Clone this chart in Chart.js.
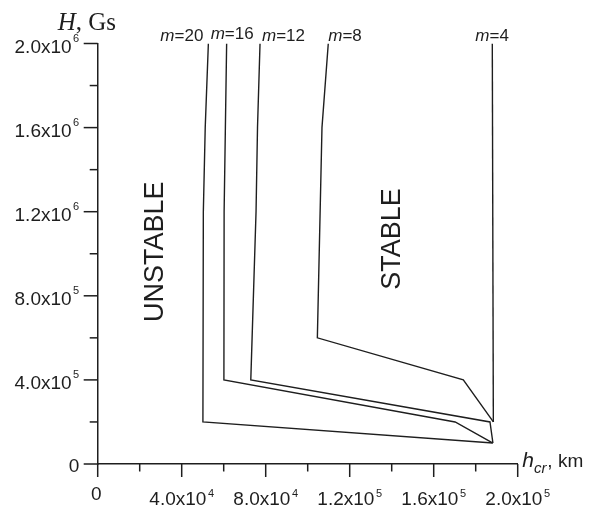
<!DOCTYPE html>
<html>
<head>
<meta charset="utf-8">
<script src="https://cdn.jsdelivr.net/npm/chart.js@4/dist/chart.umd.min.js"></script>
<style>
  html, body { margin: 0; padding: 0; background: #fff; }
  #wrap { width: 590px; height: 507px; }
</style>
</head>
<body>
<div id="wrap"><canvas id="grafica" width="590" height="507"></canvas></div>
<script>
// curvas h_cr(H) para cada m
const mLabels = ['20', '16', '12', '8', '4'];

const hcr20 = [52700, 51200, 50300, 50100, 188200];
const H20   = [2.0e6, 1.6e6, 1.2e6, 2.0e5, 1.0e5];

const hcr16 = [61400, 60800, 60200, 60100, 170200, 188000];
const H16   = [2.0e6, 1.6e6, 1.2e6, 4.0e5, 2.0e5, 1.0e5];

const hcr12 = [77300, 76100, 75400, 72900, 186800, 188200];
const H12   = [2.0e6, 1.6e6, 1.2e6, 4.0e5, 2.0e5, 1.0e5];

const hcr8  = [109800, 106800, 104600, 174100, 188400];
const H8    = [2.0e6, 1.6e6, 6.0e5, 4.0e5, 2.0e5];

const hcr4  = [187900, 188400];
const H4    = [2.0e6, 2.0e5];

// etiquetas de ticks
const xTicks = [0, 40000, 80000, 120000, 160000, 200000];
const xTickText = [['0', ''], ['4.0x10', '4'], ['8.0x10', '4'], ['1.2x10', '5'], ['1.6x10', '5'], ['2.0x10', '5']];
const yTicks = [0, 400000, 800000, 1200000, 1600000, 2000000];
const yTickText = [['0', ''], ['4.0x10', '5'], ['8.0x10', '5'], ['1.2x10', '6'], ['1.6x10', '6'], ['2.0x10', '6']];

const curvas = [[hcr20, H20], [hcr16, H16], [hcr12, H12], [hcr8, H8], [hcr4, H4]];

// desplazamiento (px) de cada etiqueta m=.. respecto al extremo superior de la curva
const etiquetaOffset = [[-48, -3], [-16, -5], [2, -3], [0, -3], [-17, -3]];

const SANS = '"Liberation Sans", Arial, sans-serif';
const SERIF = '"Liberation Serif", "Times New Roman", serif';
const INK = '#1e1e1e';

const ejesPlugin = {
  id: 'ejes',
  afterDraw(chart) {
    const ctx = chart.ctx;
    const xs = chart.scales.x, ys = chart.scales.y;
    const area = chart.chartArea;
    ctx.save();
    ctx.strokeStyle = INK;
    ctx.fillStyle = INK;
    ctx.lineWidth = 1.5;

    // ticks eje x (mayores cada 4e4, menores cada 2e4)
    for (let v = 0; v <= 200000; v += 20000) {
      const px = xs.getPixelForValue(v);
      const len = (v % 40000 === 0) ? 13 : 7.5;
      ctx.beginPath();
      ctx.moveTo(px, area.bottom);
      ctx.lineTo(px, area.bottom + len);
      ctx.stroke();
    }
    // ticks eje y
    for (let v = 0; v <= 2000000; v += 200000) {
      const py = ys.getPixelForValue(v);
      const len = (v % 400000 === 0) ? 14 : 8;
      ctx.beginPath();
      ctx.moveTo(area.left, py);
      ctx.lineTo(area.left - len, py);
      ctx.stroke();
    }

    const mainFont = '19px ' + SANS;
    const supFont = '11px ' + SANS;

    // etiquetas eje y
    yTicks.forEach((v, i) => {
      const py = ys.getPixelForValue(v);
      const [base, sup] = yTickText[i];
      const right = area.left - 18.5;
      ctx.font = supFont;
      const wSup = sup ? ctx.measureText(sup).width + 1.5 : 0;
      ctx.font = mainFont;
      ctx.textAlign = 'right';
      ctx.textBaseline = 'alphabetic';
      const bl = v === 0 ? py + 8 : py + 9.5;
      ctx.fillText(base, right - wSup, bl);
      if (sup) {
        ctx.font = supFont;
        ctx.textAlign = 'right';
        ctx.fillText(sup, right, bl - 11);
      }
    });

    // etiquetas eje x
    xTicks.forEach((v, i) => {
      const px = xs.getPixelForValue(v);
      const [base, sup] = xTickText[i];
      ctx.font = mainFont;
      const wBase = ctx.measureText(base).width;
      ctx.font = supFont;
      const wSup = sup ? ctx.measureText(sup).width + 1.5 : 0;
      const left = (v === 0 ? px - 1.5 : px) - (wBase + wSup) / 2;
      const bl = v === 0 ? area.bottom + 36 : area.bottom + 40.5;
      ctx.textAlign = 'left';
      ctx.textBaseline = 'alphabetic';
      ctx.font = mainFont;
      ctx.fillText(base, left, bl);
      if (sup) {
        ctx.font = supFont;
        ctx.fillText(sup, left + wBase + 1.5, bl - 8);
      }
    });

    // título eje y: H, Gs
    ctx.textAlign = 'left';
    ctx.font = 'italic 25px ' + SERIF;
    let x0 = area.left - 40;
    const yT = area.top - 13.5;
    ctx.fillText('H', x0, yT);
    x0 += ctx.measureText('H').width;
    ctx.font = '25px ' + SERIF;
    ctx.fillText(', Gs', x0, yT);

    // título eje x: h_cr , km
    let xb = area.right + 4.5;
    const yb = area.bottom + 2.7;
    ctx.font = 'italic 21px ' + SANS;
    ctx.fillText('h', xb, yb);
    xb += ctx.measureText('h').width;
    ctx.font = 'italic 15px ' + SANS;
    ctx.fillText('cr', xb, yb + 6);
    xb += ctx.measureText('cr').width + 1;
    ctx.font = '19px ' + SANS;
    ctx.fillText(', km', xb, yb);

    // etiquetas m=..
    chart.data.datasets.forEach((ds, i) => {
      const p = ds.data[0];
      const px = xs.getPixelForValue(p.x) + etiquetaOffset[i][0];
      const py = ys.getPixelForValue(p.y) + etiquetaOffset[i][1];
      ctx.font = 'italic 17px ' + SANS;
      ctx.fillText('m', px, py);
      const wm = ctx.measureText('m').width;
      ctx.font = '17px ' + SANS;
      ctx.fillText('=' + mLabels[i], px + wm, py);
    });

    // regiones
    ctx.font = '27px ' + SANS;
    ctx.textAlign = 'center';
    ctx.textBaseline = 'middle';
    const rot = (txt, cx, cy) => {
      ctx.save();
      ctx.translate(cx, cy);
      ctx.rotate(-Math.PI / 2);
      ctx.fillText(txt, 0, 0);
      ctx.restore();
    };
    rot('UNSTABLE', xs.getPixelForValue(27500), ys.getPixelForValue(1.01e6));
    rot('STABLE', xs.getPixelForValue(140300), ys.getPixelForValue(1.07e6));

    ctx.restore();
  }
};

const canvas = document.getElementById('grafica');
new Chart(canvas, {
  type: 'scatter',
  data: {
    datasets: curvas.map((c, i) => ({
      label: 'm=' + mLabels[i],
      data: c[0].map((x, j) => ({ x: x, y: c[1][j] })),
      showLine: true,
      borderColor: INK,
      borderWidth: 1.4,
      pointRadius: 0,
      tension: 0,
      fill: false
    }))
  },
  options: {
    responsive: false,
    animation: false,
    layout: { padding: { left: 97.7, right: 72.3, top: 43.5, bottom: 43 } },
    plugins: { legend: { display: false }, tooltip: { enabled: false } },
    scales: {
      x: {
        type: 'linear', min: 0, max: 200000,
        ticks: { display: false },
        grid: { display: false, drawTicks: false },
        border: { display: true, color: INK, width: 1.5 },
        afterFit(s) { s.height = 0; }
      },
      y: {
        type: 'linear', min: 0, max: 2000000,
        ticks: { display: false },
        grid: { display: false, drawTicks: false },
        border: { display: true, color: INK, width: 1.5 },
        afterFit(s) { s.width = 0; }
      }
    }
  },
  plugins: [ejesPlugin]
});
</script>
</body>
</html>
